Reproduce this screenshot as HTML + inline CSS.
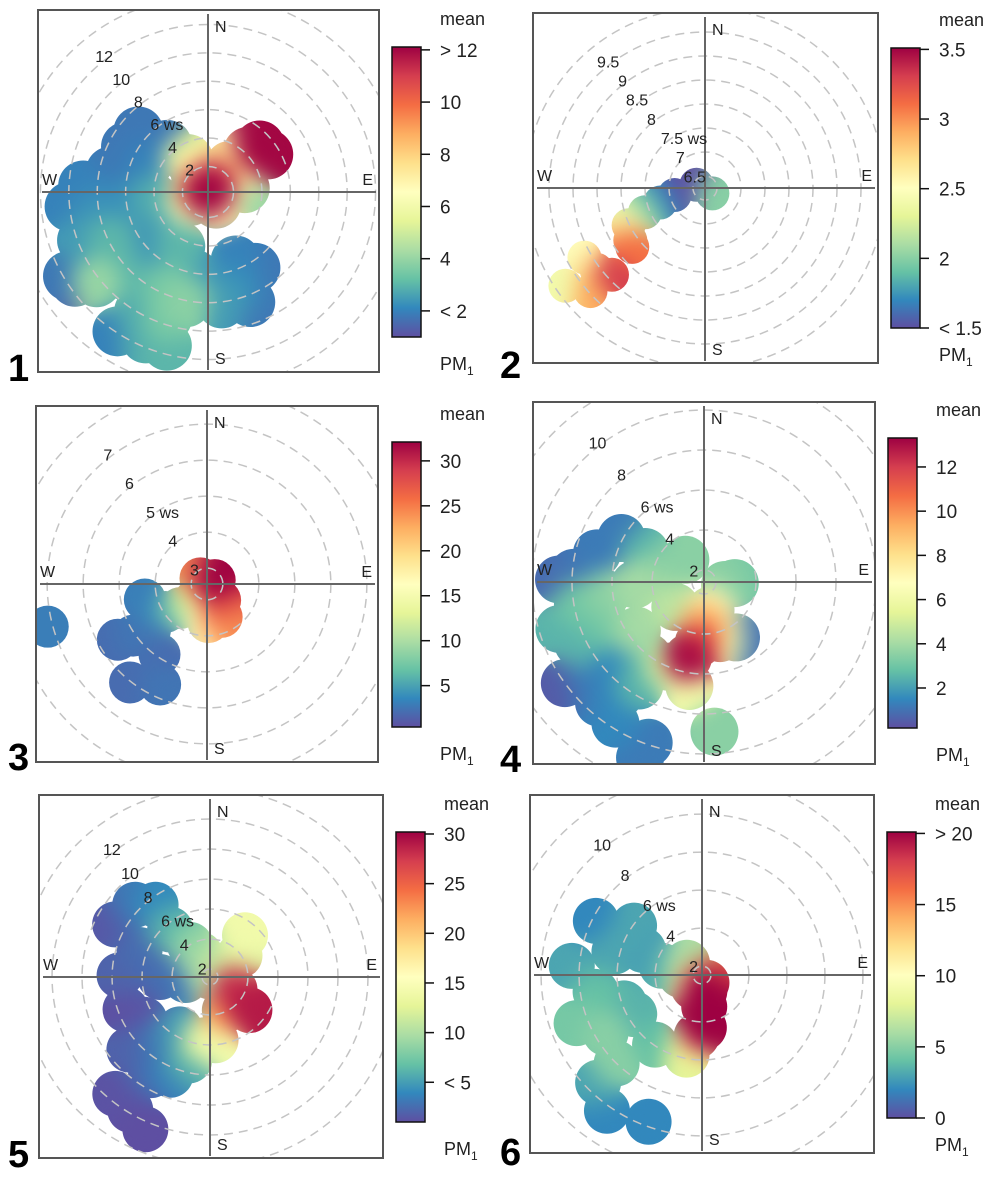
<!DOCTYPE html>
<html><head><meta charset="utf-8">
<style>
html,body{margin:0;padding:0;background:#fff;}
svg{display:block;font-family:"Liberation Sans",sans-serif;}
</style></head>
<body>
<svg id="fig" width="1003" height="1179" viewBox="0 0 1003 1179" xmlns="http://www.w3.org/2000/svg"></svg>
<script>
// ---- data: blobs are [wind direction (deg), wind speed, mean PM1] ----
const p1Blobs=[[0,0,12],[30,0.8,11],[293,0.8,9],[35,1.7,8],[40,2.6,7],[55,2.9,6],[325,1.7,7],[329,2.9,5.5],[45,4.2,7],[48,5.1,12],[58,5.2,12],[84,2.8,4],[243,1.6,6],[145,1.2,7],
[319,4.6,1.8],[311,6.7,1.8],[299,6.8,1.8],[294,4.9,2],[282,7.2,1.8],[273,9,2],[264,10,2],[259,8.1,2.3],[261,6.1,2.2],[263,4,2.8],[230,3.9,2.5],[239,5.8,2],[243,7.8,3],[249,9.7,2.5],[239,11.7,1.8],[231,10.3,4],[225,8.5,3],[219,6.4,2.3],[207,4.5,3],[189,6.1,2.5],[203,7.6,3.5],[210,9.9,2.8],[198,9.5,3.5],[191,8.1,3.8],[236,11.5,1],
[158,5.4,2],[148,6.5,1.8],[164,7.3,2.2],[159,8.5,1.8],[173,8.1,2.5],[213,11.9,2],[203,11.4,2.8],[195,11.4,3]];
const p2Blobs=[[291,6.44,1.4],[126,6.44,2.0],[257,6.9,1.5],[252,7.23,1.7],[248,7.6,2.0],[244,8.02,2.4],[235,8.15,2.8],[231,8.2,3.1],[240,9.15,2.5],[233,9.08,2.8],[227,8.9,3.3],[235,9.8,2.4],[228,9.46,2.9]];
const p3Blobs=[[63,2.8,32],[311,2.8,24],[141,3.14,27],[156,3.56,24],[178,3.62,17],[217,3.12,13],[228,3.56,8],[236,3.95,4],[256,4.34,3],[231,4.6,1.5],[235,5.06,2.5],[238,5.48,2],[218,6.03,2],[205,5.64,2.5],[214,4.92,2],[255,7.14,3]];
const p4Blobs=[[192,5.27,13],[185,4.46,11],[180,3.51,9],[167,2.85,7],[188,6.65,6],[203,6,5],[164,4.32,6],[150,4.6,1],[98,2.46,3.5],[92,2.94,3],
[298,6.08,1.2],[285,6.94,1.2],[274,7.94,1],[271,8.65,0.8],[297,4.7,2.5],[290,3.51,3.5],[320,2.85,3.5],[268,4.85,4],[263,6.32,3.5],[260,7.8,3],[252,9,2.5],[244,8.4,2.5],[246,6.7,3],[234,5.55,4],[217,6.08,2.5],[226,7.37,1.5],[231,8.75,1.2],[234,10,0.5],[221,9.4,1.2],[217,8.46,1.5],[212,7.5,2.5],[212,9.75,1.5],[199,9.9,1.2],[200,10.75,1.2],[176,8.9,3.5],[229,3.3,4.5]];
const p5Blobs=[[0,1.5,10],[40,5.1,14],[54,3.9,12],[51,2.7,11],[117,3.3,28],[130,4.9,29],[156,3.9,22],[175,5.7,14],[185,5.7,12],
[314,8.4,3],[299,8.7,1.5],[323,7.5,4],[320,5.6,6],[328,4.0,8],[336,3.1,9],[291,6.5,2.5],[271,7.5,2],[270,4.8,2.5],[263,3.1,3],[249,7.5,1],[237,6.7,1.2],[228,8.7,2],[218,6.8,3],[210,5.5,5],[211,9.1,2.5],[202,8.5,3.5],[194,7.2,6],[211,11.8,1],[203,12.5,1],[219,11.5,1.2]];
const p6Blobs=[[176,3.2,22],[178,4.3,22],[172,2.4,20],[150,2.0,16],[215,2.3,12],[185,4.75,12],[191,5.8,8],[309,2.55,6],
[297,7.8,2],[274,8.4,3],[285,6.3,3],[293,4.9,2.5],[306,5.95,3],[283,3.7,3],[270,2.65,4],[261,7.2,4],[249,8.6,4.5],[239,7.45,5],[240,5.65,3.5],[214,5.95,4],[224,8,5],[224,9.4,3],[215,10.25,2],[200,9.75,2],[250,5.9,3.5]];
// colour bar ticks
const p1Ticks=[12,10,8,6,4,2];   const p1TickLabels=["> 12","10","8","6","4","< 2"];
const p2Ticks=[3.5,3,2.5,2,1.5]; const p2TickLabels=["3.5","3","2.5","2","< 1.5"];
const p3Ticks=[30,25,20,15,10,5]; const p3TickLabels=["30","25","20","15","10","5"];
const p4Ticks=[12,10,8,6,4,2];   const p4TickLabels=["12","10","8","6","4","2"];
const p5Ticks=[30,25,20,15,10,5]; const p5TickLabels=["30","25","20","15","10","< 5"];
const p6Ticks=[20,15,10,5,0];    const p6TickLabels=["> 20","15","10","5","0"];
// wind speed rings and labels
const p1Rings=[2,4,6,8,10,12,14]; const p1RingLabels=[2,4,"6 ws",8,10,12];
const p2Rings=[6.5,7,7.5,8,8.5,9,9.5,10]; const p2RingLabels=[6.5,7,"7.5 ws",8,8.5,9,9.5];
const p3Rings=[3,4,5,6,7,8]; const p3RingLabels=[3,4,"5 ws",6,7];
const p4Rings=[2,4,6,8,10,12]; const p4RingLabels=[2,4,"6 ws",8,10];
const p5Rings=[2,4,6,8,10,12,14]; const p5RingLabels=[2,4,"6 ws",8,10,12];
const p6Rings=[2,4,6,8,10,12]; const p6RingLabels=[2,4,"6 ws",8,10];

const SPECTRAL=["#5E4FA2","#3288BD","#66C2A5","#ABDDA4","#E6F598","#FFFFBF","#FEE08B","#FDAE61","#F46D43","#D53E4F","#9E0142"];
function hex(c){return [parseInt(c.slice(1,3),16),parseInt(c.slice(3,5),16),parseInt(c.slice(5,7),16)];}
function colorFor(v,d){let t=(v-d[0])/(d[1]-d[0]);t=Math.max(0,Math.min(1,t));const s=t*(SPECTRAL.length-1);const i=Math.min(Math.floor(s),SPECTRAL.length-2);const f=s-i;const a=hex(SPECTRAL[i]),b=hex(SPECTRAL[i+1]);return "rgb("+a.map((x,k)=>Math.round(x+(b[k]-x)*f)).join(",")+")";}

const panels=[
 {id:1,blobs:p1Blobs,ticks:p1Ticks,tl:p1TickLabels,rings:p1Rings,rl:p1RingLabels,box:[38,10,379,372],c:[208,192],k:14.2,ws0:0.2,br:25,cb:[392,47,421,337],dom:[1.0,12.11],num:[8,381]},
 {id:2,blobs:p2Blobs,ticks:p2Ticks,tl:p2TickLabels,rings:p2Rings,rl:p2RingLabels,box:[533,13,878,363],c:[705,188],k:48,ws0:6.25,br:17,cb:[891,48,920,328],dom:[1.5,3.51],num:[500,378]},
 {id:3,blobs:p3Blobs,ticks:p3Ticks,tl:p3TickLabels,rings:p3Rings,rl:p3RingLabels,box:[36,406,378,762],c:[207,584],k:36,ws0:2.56,br:21,cb:[392,442,421,727],dom:[0.4,32.1],num:[8,770]},
 {id:4,blobs:p4Blobs,ticks:p4Ticks,tl:p4TickLabels,rings:p4Rings,rl:p4RingLabels,box:[533,402,875,764],c:[704,582],k:20,ws0:1.4,br:24,cb:[888,438,917,728],dom:[0.19,13.31],num:[500,772]},
 {id:5,blobs:p5Blobs,ticks:p5Ticks,tl:p5TickLabels,rings:p5Rings,rl:p5RingLabels,box:[39,795,383,1158],c:[210,977],k:15,ws0:1.47,br:23,cb:[396,832,425,1122],dom:[1.0,30.2],num:[8,1167]},
 {id:6,blobs:p6Blobs,ticks:p6Ticks,tl:p6TickLabels,rings:p6Rings,rl:p6RingLabels,box:[530,795,874,1153],c:[702,975],k:19,ws0:1.53,br:23,cb:[887,832,916,1118],dom:[0,20.1],num:[500,1165]}
];
const NS="http://www.w3.org/2000/svg";
const svg=document.getElementById("fig");
function mk(tag,attrs,parent){const e=document.createElementNS(NS,tag);for(const k in attrs)e.setAttribute(k,attrs[k]);(parent||svg).appendChild(e);return e;}
const defs=mk("defs",{});
const flt=mk("filter",{id:"smooth",filterUnits:"userSpaceOnUse",x:0,y:0,width:1003,height:1179,"color-interpolation-filters":"sRGB"},defs);
mk("feGaussianBlur",{stdDeviation:11},flt);
const ct=mk("feComponentTransfer",{},flt);
mk("feFuncA",{type:"linear",slope:40,intercept:0},ct);

panels.forEach(p=>{
  const g=mk("g",{});
  
  
  const [x0,y0,x1,y1]=p.box,[cx,cy]=p.c;
  const rOf=ws=>Math.max(0,(ws-p.ws0)*p.k);
  const pos=(dir,ws)=>{const a=dir*Math.PI/180,r=rOf(ws);return [cx+r*Math.sin(a),cy-r*Math.cos(a)];};
  const clip=mk("clipPath",{id:"clip"+p.id},defs);
  mk("rect",{x:x0,y:y0,width:x1-x0,height:y1-y0},clip);
  const mask=mk("mask",{id:"mask"+p.id,maskUnits:"userSpaceOnUse",x:0,y:0,width:1003,height:1179},defs);
  const sorted=p.blobs.slice().sort((a,b)=>a[2]-b[2]);
  sorted.forEach(b=>{const [bx,by]=pos(b[0],b[1]);mk("circle",{cx:bx,cy:by,r:p.br,fill:"#fff"},mask);});
  const outer=mk("g",{"clip-path":"url(#clip"+p.id+")"},g);
  const surf=mk("g",{mask:"url(#mask"+p.id+")"},outer);
  const blurG=mk("g",{filter:"url(#smooth)"},surf);
  sorted.forEach(b=>{
    const [bx,by]=pos(b[0],b[1]);
    const c=mk("circle",{cx:bx,cy:by,r:p.br,fill:colorFor(b[2],p.dom)},blurG);
    
    
  });
  p.rings.forEach(ws=>{
    const c=mk("circle",{cx:cx,cy:cy,r:rOf(ws),fill:"none",stroke:"#c4c4c4","stroke-width":1.5,"stroke-dasharray":"9,6"},outer);
    
    
  });
  mk("line",{x1:cx,y1:y0+4,x2:cx,y2:y1-2,stroke:"#666","stroke-width":2},g);
  mk("line",{x1:x0+4,y1:cy,x2:x1-3,y2:cy,stroke:"#666","stroke-width":2},g);
  const box=mk("rect",{x:x0,y:y0,width:x1-x0,height:y1-y0,fill:"none",stroke:"#555","stroke-width":2},g);
  
  
  p.rl.forEach(l=>{
    const ws=typeof l==="string"?parseFloat(l):l;
    const [lx,ly]=pos(323,ws);
    const isWs=typeof l==="string";
    const t=mk("text",{x:isWs?lx-8:lx-3,y:ly+4,"font-size":16,fill:"#222","text-anchor":isWs?"start":"middle"},g);
    t.textContent=l;
    
    
  });
  [["N",cx+7,y0+22,"start"],["S",cx+7,y1-8,"start"],["W",x0+4,cy-7,"start"],["E",x1-6,cy-7,"end"]].forEach(d=>{
    const t=mk("text",{x:d[1],y:d[2],"font-size":16,fill:"#222","text-anchor":d[3]},g);
    t.textContent=d[0];
    
    
  });
  const [bx0,by0,bx1,by1]=p.cb;
  const grad=mk("linearGradient",{id:"grad"+p.id,x1:0,y1:1,x2:0,y2:0},defs);
  SPECTRAL.forEach((c,i)=>mk("stop",{offset:(i/(SPECTRAL.length-1)),"stop-color":c},grad));
  const bar=mk("rect",{x:bx0,y:by0,width:bx1-bx0,height:by1-by0,fill:"url(#grad"+p.id+")",stroke:"#111","stroke-width":1.5},g);
  
  
  const yOf=v=>by1-(v-p.dom[0])/(p.dom[1]-p.dom[0])*(by1-by0);
  p.ticks.forEach((v,i)=>{
    const ty=yOf(v);
    mk("line",{x1:bx1,y1:ty,x2:bx1+9,y2:ty,stroke:"#111","stroke-width":1.5},g);
    const t=mk("text",{x:bx1+19,y:ty+7,"font-size":19,fill:"#222"},g);
    t.textContent=p.tl[i];
    
    
  });
  const mt=mk("text",{x:bx0+48,y:by0-22,"font-size":18,fill:"#222"},g);
  mt.textContent="mean";
  
  
  const pm=mk("text",{x:bx0+48,y:by1+33,"font-size":18,fill:"#222"},g);
  pm.innerHTML='PM<tspan font-size="12" dy="5">1</tspan>';
  
  
  const nt=mk("text",{x:p.num[0],y:p.num[1],"font-size":38,"font-weight":"bold",fill:"#000"},g);
  nt.textContent=p.id;
  
  
});
</script>
</body></html>
